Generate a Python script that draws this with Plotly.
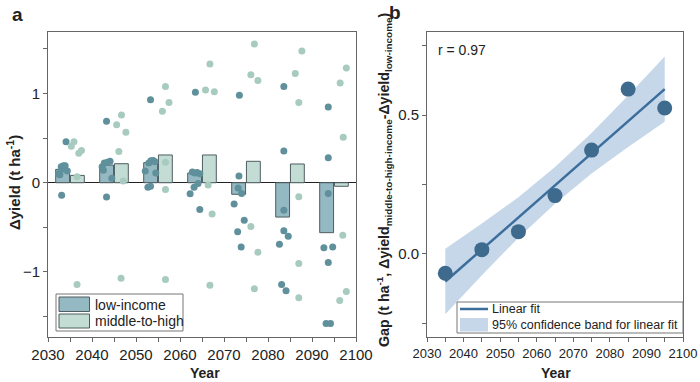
import plotly.graph_objects as go

# ---------------- data ----------------
years = [2035, 2045, 2055, 2065, 2075, 2085, 2095]
bar_low = [0.15, 0.198, 0.225, 0.109, -0.13, -0.385, -0.56]
bar_mid = [0.082, 0.213, 0.311, 0.311, 0.24, 0.21, -0.04]

low_pts_x = [2034.1, 2033.0, 2033.5, 2033.9, 2032.4, 2032.7, 2034.4, 2033.2, 2033.1,
             2043.3, 2042.8, 2043.5, 2044.1, 2042.3, 2042.6, 2044.5, 2043.3,
             2053.3, 2052.9, 2053.4, 2053.9, 2054.3, 2052.1, 2054.5, 2052.7, 2053.3,
             2063.5, 2062.8, 2063.4, 2063.9, 2064.5, 2064.1, 2063.2, 2062.3, 2064.5,
             2073.5, 2073.4, 2073.2, 2074.0, 2072.3, 2074.6, 2073.1, 2073.9,
             2083.6, 2083.6, 2083.6, 2083.6, 2084.6, 2082.6, 2083.1, 2084.1,
             2093.7, 2093.7, 2093.7, 2092.7, 2094.7, 2093.7, 2093.2, 2094.2]
low_pts_y = [0.46, 0.18, 0.19, 0.19, 0.10, 0.09, 0.13, 0.15, -0.14,
             0.69, 0.22, 0.23, 0.24, 0.18, 0.14, 0.05, -0.16,
             0.93, 0.22, 0.245, 0.25, 0.235, 0.13, 0.11, -0.05, -0.04,
             1.015, 0.12, 0.11, 0.115, 0.10, -0.01, -0.05, -0.125, -0.30,
             0.98, 0.075, -0.06, -0.12, -0.24, -0.42, -0.55, -0.72,
             1.08, 0.356, -0.31, -0.54, -0.60, -0.69, -1.14, -1.21,
             0.85, 0.28, -0.12, -0.73, -0.72, -0.895, -1.58, -1.58]

mid_pts_x = [2035.9, 2035.3, 2037.6, 2037.0, 2036.6, 2036.6,
             2046.7, 2045.6, 2047.7, 2046.1, 2047.1, 2046.6,
             2056.7, 2057.5, 2056.0, 2056.7, 2056.7, 2056.7,
             2066.8, 2065.8, 2067.8, 2066.4, 2067.3, 2066.8,
             2076.9, 2076.1, 2077.7, 2076.1, 2077.7, 2076.9,
             2087.7, 2086.2, 2087.0, 2087.0, 2087.0, 2087.0,
             2097.8, 2096.4, 2097.1, 2097.0, 2097.8, 2096.3]
mid_pts_y = [0.46, 0.41, 0.36, 0.33, 0.067, -1.14,
             0.76, 0.65, 0.565, 0.35, 0.02, -1.07,
             1.08, 0.90, 0.80, 0.23, -0.075, -1.085,
             1.33, 1.04, 1.02, -0.026, -0.35, -1.15,
             1.555, 1.21, 1.146, -0.49, -0.78, -1.19,
             1.476, 1.225, 0.90, -0.157, -0.906, -1.29,
             1.285, 1.117, 0.51, -0.59, -1.22, -1.32]

gap_y = [-0.07, 0.015, 0.08, 0.21, 0.374, 0.594, 0.526]
fit_y = [-0.100, 0.016, 0.131, 0.247, 0.363, 0.478, 0.594]
band_hi = [0.018, 0.109, 0.204, 0.313, 0.436, 0.571, 0.712]
band_lo = [-0.218, -0.077, 0.058, 0.181, 0.290, 0.385, 0.476]

x_ticks = [2030, 2040, 2050, 2060, 2070, 2080, 2090, 2100]

# ---------------- style ----------------
W, H = 700, 382
FONT = "Liberation Sans, Arial, sans-serif"
C_LOW_BAR = "#95b9c3"
C_MID_BAR = "#c3ddd4"
C_BAR_EDGE = "#4f5d60"
C_LOW_PT = "#5f909b"
C_MID_PT = "#a8cbbf"
C_FIT = "#3b6e9c"
C_BAND = "#c5d7e9"
C_PT_B = "#3e6a8e"
AX = "#666666"


def px(x):
    return x / W


def py(y):
    return 1 - y / H


fig = go.Figure()

# panel a
fig.add_trace(go.Bar(x=years, y=bar_low, xaxis="x", yaxis="y", showlegend=False,
                     marker=dict(color=C_LOW_BAR, line=dict(color=C_BAR_EDGE, width=1))))
fig.add_trace(go.Bar(x=years, y=bar_mid, xaxis="x", yaxis="y", showlegend=False,
                     marker=dict(color=C_MID_BAR, line=dict(color=C_BAR_EDGE, width=1))))
fig.add_trace(go.Scatter(x=low_pts_x, y=low_pts_y, mode="markers", xaxis="x", yaxis="y",
                         showlegend=False, marker=dict(size=7, color=C_LOW_PT, line=dict(width=0))))
fig.add_trace(go.Scatter(x=mid_pts_x, y=mid_pts_y, mode="markers", xaxis="x", yaxis="y",
                         showlegend=False, marker=dict(size=7, color=C_MID_PT, line=dict(width=0))))

# panel b
fig.add_trace(go.Scatter(x=years, y=band_hi, mode="lines", xaxis="x2", yaxis="y2",
                         line=dict(width=0), showlegend=False, hoverinfo="skip"))
fig.add_trace(go.Scatter(x=years, y=band_lo, mode="lines", xaxis="x2", yaxis="y2",
                         line=dict(width=0), fill="tonexty", fillcolor=C_BAND,
                         showlegend=False, hoverinfo="skip"))
fig.add_trace(go.Scatter(x=years, y=fit_y, mode="lines", xaxis="x2", yaxis="y2",
                         line=dict(color=C_FIT, width=2.5), showlegend=False))
fig.add_trace(go.Scatter(x=years, y=gap_y, mode="markers", xaxis="x2", yaxis="y2",
                         marker=dict(size=15, color=C_PT_B, line=dict(width=0)), showlegend=False))

common_x = dict(range=[2030, 2100], tickvals=x_ticks, ticks="outside", ticklen=4,
                tickcolor=AX, linecolor=AX, linewidth=1, mirror=True, showgrid=False,
                zeroline=False, automargin=False,
                minor=dict(dtick=5, tick0=2030, ticks="outside", ticklen=4,
                           tickcolor=AX, showgrid=False))

fig.update_layout(
    template="none",
    width=W, height=H,
    margin=dict(l=0, r=0, t=0, b=0, pad=0),
    paper_bgcolor="white", plot_bgcolor="white",
    font=dict(family=FONT, color="#222222"),
    barmode="group", bargap=0.33, bargroupgap=0.06,
    xaxis=dict(domain=[px(48), px(356)], anchor="y", tickfont=dict(size=15), **common_x),
    yaxis=dict(domain=[py(337), py(32)], anchor="x", range=[-1.73, 1.69],
               tickvals=[-1, 0, 1], ticktext=["\u22121", "0", "1"], tickfont=dict(size=15),
               ticks="outside", ticklen=4, tickcolor=AX, linecolor=AX, linewidth=1,
               mirror=True, showgrid=False, zeroline=True, zerolinecolor="#222222",
               zerolinewidth=1.2, automargin=False,
               minor=dict(tickvals=[-1.5, -0.5, 0.5, 1.5], ticks="outside", ticklen=4,
                          tickcolor=AX, showgrid=False)),
    xaxis2=dict(domain=[px(427), px(683)], anchor="y2", tickfont=dict(size=13), **common_x),
    yaxis2=dict(domain=[py(337), py(32)], anchor="x2", range=[-0.30, 0.80],
                tickvals=[0, 0.5], ticktext=["0.0", "0.5"], tickfont=dict(size=15),
                ticks="outside", ticklen=4, tickcolor=AX, linecolor=AX, linewidth=1,
                mirror=True, showgrid=False, zeroline=False, automargin=False,
                minor=dict(tickvals=[-0.25, 0.25, 0.75], ticks="outside", ticklen=4,
                           tickcolor=AX, showgrid=False)),
)

shapes = []
# legend a
shapes.append(dict(type="rect", xref="paper", yref="paper", x0=px(56), x1=px(183),
                   y0=py(331), y1=py(294), line=dict(color="#777777", width=1), fillcolor="white"))
shapes.append(dict(type="rect", xref="paper", yref="paper", x0=px(59), x1=px(89.5),
                   y0=py(311.5), y1=py(297), line=dict(color=C_BAR_EDGE, width=1), fillcolor=C_LOW_BAR))
shapes.append(dict(type="rect", xref="paper", yref="paper", x0=px(59), x1=px(89.5),
                   y0=py(328), y1=py(314), line=dict(color=C_BAR_EDGE, width=1), fillcolor=C_MID_BAR))
# legend b
shapes.append(dict(type="rect", xref="paper", yref="paper", x0=px(457), x1=px(683),
                   y0=py(333), y1=py(302), line=dict(color="#777777", width=1), fillcolor="white"))
shapes.append(dict(type="line", xref="paper", yref="paper", x0=px(460), x1=px(488),
                   y0=py(309), y1=py(309), line=dict(color=C_FIT, width=2.5)))
shapes.append(dict(type="rect", xref="paper", yref="paper", x0=px(460), x1=px(488),
                   y0=py(331.5), y1=py(318), line=dict(width=0), fillcolor=C_BAND))
fig.update_layout(shapes=shapes)

ann = []


def add_text(x, y, text, size, xanchor="center", yanchor="middle", angle=0):
    ann.append(dict(x=px(x), y=py(y), xref="paper", yref="paper", text=text, showarrow=False,
                    xanchor=xanchor, yanchor=yanchor, textangle=angle,
                    font=dict(size=size, family=FONT, color="#222222")))


add_text(17, 15, "<b>a</b>", 19)
add_text(395, 12, "<b>b</b>", 19)
add_text(93, 304.5, "low-income", 14, xanchor="left")
add_text(93, 321, "middle-to-high", 14, xanchor="left")
add_text(490, 309, "Linear fit", 12.5, xanchor="left")
add_text(490, 325, "95% confidence band for linear fit", 12.5, xanchor="left")
add_text(436, 50, "r = 0.97", 14, xanchor="left")
add_text(205, 373, "<b>Year</b>", 14)
add_text(556, 373, "<b>Year</b>", 14)
add_text(13, 183, "<b>\u0394yield (t ha<sup>-1</sup>)</b>", 15, angle=-90)
add_text(384, 180,
         "<b>Gap (t ha<sup>-1</sup>, \u0394yield<sub>middle-to-high-income</sub>"
         "-\u0394yield<sub>low-income</sub>)</b>", 14.2, angle=-90)
fig.update_layout(annotations=ann)

fig.write_html("out.html", config={"displayModeBar": False},
               post_script="document.body.style.margin='0';document.body.style.padding='0';")
